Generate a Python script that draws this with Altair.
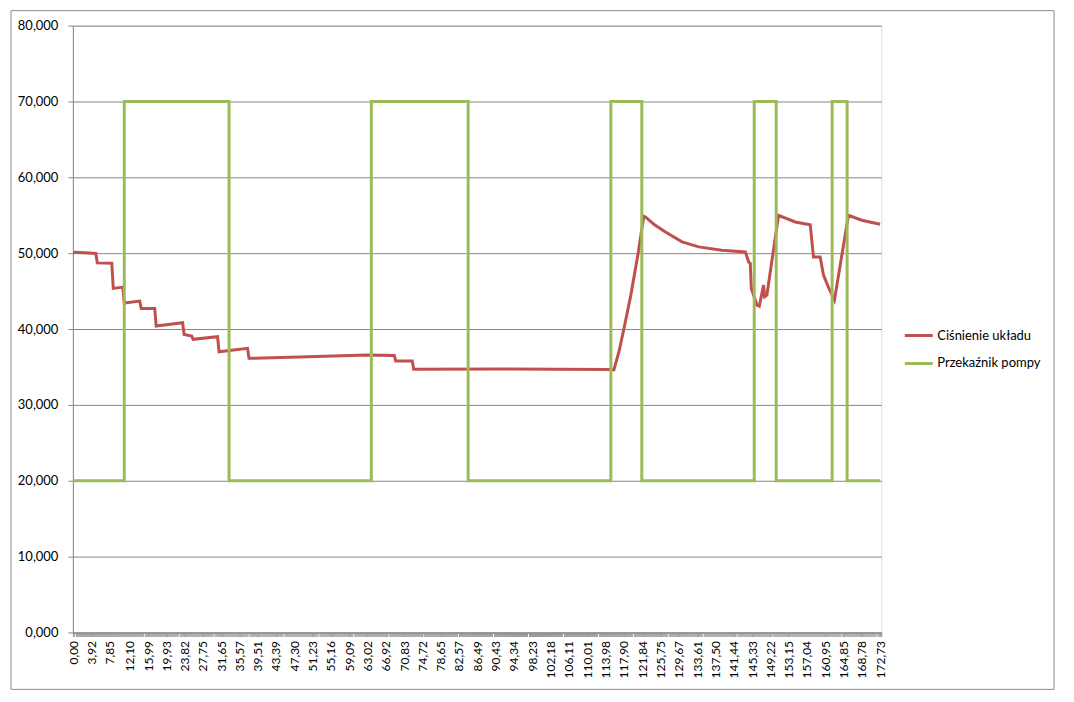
import altair as alt
import numpy as np
import pandas as pd

# ---- data ----
series_names = ["Ciśnienie układu", "Przekaźnik pompy"]

red_t = [0.00, 2.50, 4.81, 5.13, 8.23, 8.55, 10.58, 10.90, 14.21, 14.53, 17.42, 17.74,
         23.40, 23.72, 25.33, 25.65, 30.88, 31.20, 33.45, 37.29, 37.61, 48.41, 62.94,
         68.71, 69.03, 72.56, 72.88, 91.15, 114.98, 115.73, 116.80, 117.87, 119.36,
         120.92, 122.14, 122.50, 124.28, 126.78, 130.33, 133.90, 138.81, 143.88, 144.58,
         144.94, 145.16, 146.36, 146.87, 147.79, 148.00, 148.49, 150.99, 154.56, 157.77,
         158.47, 159.90, 160.61, 161.68, 162.96, 165.95, 168.80, 172.73]
red_v = [50.13, 50.05, 49.96, 48.72, 48.68, 45.36, 45.53, 43.42, 43.68, 42.72, 42.70, 40.39,
         40.83, 39.28, 39.08, 38.64, 38.99, 37.01, 37.17, 37.46, 36.14, 36.32, 36.58,
         36.51, 35.79, 35.79, 34.70, 34.74, 34.67, 34.61, 36.97, 40.00, 44.47,
         49.96, 54.87, 54.78, 53.82, 52.80, 51.49, 50.83, 50.39, 50.17, 48.86,
         48.64, 45.36, 43.16, 43.03, 45.79, 44.25, 44.47, 55.00, 54.12, 53.75,
         49.51, 49.51, 47.11, 45.49, 43.82, 55.00, 54.34, 53.82]

green_t = [0.00, 10.90, 10.90, 33.34, 33.34, 63.80, 63.80, 84.53, 84.53, 115.09, 115.09,
           121.71, 121.71, 145.78, 145.78, 150.49, 150.49, 162.46, 162.46, 165.67, 165.67, 172.73]
green_v = [20, 20, 70, 70, 20, 20, 70, 70, 20, 20, 70, 70, 20, 20, 70, 70, 20, 20, 70, 70, 20, 20]

x_labels = [0.00, 3.92, 7.85, 12.10, 15.99, 19.93, 23.82, 27.75, 31.65, 35.57, 39.51, 43.39,
            47.30, 51.23, 55.16, 59.09, 63.02, 66.92, 70.83, 74.72, 78.65, 82.57, 86.49,
            90.43, 94.34, 98.23, 102.18, 106.11, 110.01, 113.98, 117.90, 121.84, 125.75,
            129.67, 133.61, 137.50, 141.44, 145.33, 149.22, 153.15, 157.04, 160.95, 164.85,
            168.78, 172.73]
y_ticks = [0, 10, 20, 30, 40, 50, 60, 70, 80]

# ---- build table ----
red_df = pd.DataFrame({"t": red_t, "v": red_v, "series": series_names[0]})
red_df["idx"] = range(len(red_df))
green_df = pd.DataFrame({"t": green_t, "v": green_v, "series": series_names[1]})
green_df["idx"] = range(len(green_df))
df = pd.concat([red_df, green_df], ignore_index=True)

# dense category tick marks (Excel category axis) plus label positions
dense = [round(float(v), 2) for v in np.arange(0, 173.0, 0.22)]
tick_vals = sorted(set(dense) | set(x_labels))
label_arr = "[" + ",".join(str(v) for v in x_labels) + "]"
x_label_expr = (f"indexof({label_arr}, datum.value) >= 0 ? "
                "replace(format(datum.value, '.2f'), '.', ',') : ''")

FONT = "Lato"
GRID = "#868686"

x_enc = alt.X("t:Q", scale=alt.Scale(domain=[-0.1, 173.0], nice=False, zero=False),
              axis=alt.Axis(values=tick_vals, labelExpr=x_label_expr, labelAngle=270,
                            labelAlign="right", labelBaseline="middle", labelPadding=4,
                            tickSize=4, tickColor="#9A9A9A", domainColor=GRID, grid=False,
                            labelOverlap=False, labelFont=FONT, labelFontSize=12,
                            labelColor="#000000", title=None, labelBound=False,
                            labelFlush=False))
y_enc = alt.Y("v:Q", scale=alt.Scale(domain=[0, 80], nice=False),
              axis=alt.Axis(values=y_ticks,
                            labelExpr="replace(format(datum.value, '.3f'), '.', ',')",
                            tickSize=5, tickColor=GRID, domainColor=GRID, gridColor=GRID,
                            gridWidth=1, grid=True, labelPadding=10, labelFont=FONT,
                            labelFontSize=13, labelColor="#000000", title=None))
color_enc = alt.Color("series:N",
                      scale=alt.Scale(domain=series_names, range=["#C0504D", "#9BBB59"]),
                      legend=alt.Legend(title=None, orient="none", legendX=832, legendY=295,
                                        symbolType="stroke", symbolSize=784,
                                        symbolStrokeWidth=3, labelFont=FONT,
                                        labelFontSize=13, labelColor="#000000",
                                        labelOffset=3, rowPadding=5))

frame = alt.Chart(alt.Data(values=[{"a": 1}])).mark_rect(
    filled=False, stroke="#8C8C8C", strokeWidth=1
).encode(x=alt.value(-62), x2=alt.value(983), y=alt.value(-15), y2=alt.value(665))

red = alt.Chart(df).transform_filter(
    alt.datum.series == series_names[0]
).mark_line(strokeWidth=3, clip=True).encode(x=x_enc, y=y_enc, color=color_enc,
                                             order="idx:Q")
green = alt.Chart(df).transform_filter(
    alt.datum.series == series_names[1]
).mark_line(strokeWidth=3, clip=True).encode(x=x_enc, y=y_enc, color=color_enc,
                                             order="idx:Q")

chart = alt.layer(frame, red, green).properties(
    width=810, height=608,
    autosize=alt.AutoSizeParams(type="none"),
    padding={"left": 65, "top": 17, "right": 185, "bottom": 60},
).configure_view(stroke=None).configure(background="white")

chart.save("out.html", embed_options={"renderer": "svg", "actions": False})
